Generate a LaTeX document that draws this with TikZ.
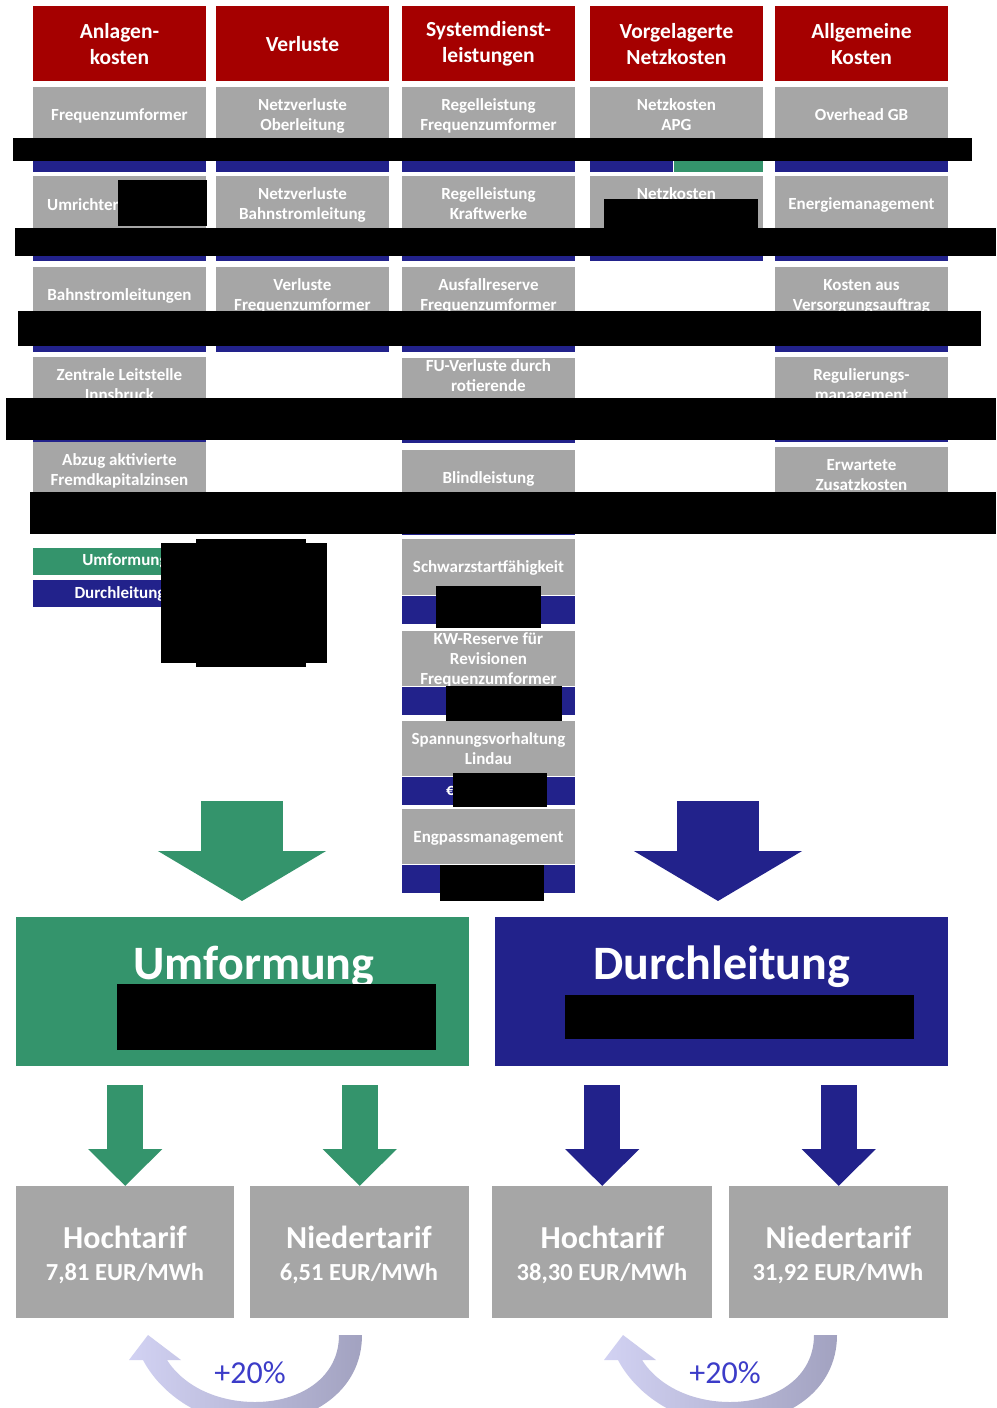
\documentclass[tikz,border=0pt]{standalone}
\usepackage{fontspec}
\setmainfont{Carlito}
\usetikzlibrary{arrows.meta}
\definecolor{hdr}{RGB}{165,0,0}
\definecolor{cellgray}{RGB}{166,166,166}
\definecolor{dblue}{RGB}{34,34,139}
\definecolor{dgreen}{RGB}{52,148,108}
\definecolor{lavl}{RGB}{210,210,243}
\definecolor{lavd}{RGB}{162,162,192}
\definecolor{pctblue}{RGB}{60,60,200}
\newcommand\cellbox[5][56]{%
  \node[graybox, minimum height=#1pt] (#2) at (#3,#4) {};
  \node[celltext, align=center] (#2t) at ([yshift=-1.7pt]#2.center) {\strut #5\strut};
  \node[bluestrip] (#2s) at (#2.south west) {};
}
\begin{document}
\begin{tikzpicture}[x=1pt,y=-1pt,
  hdrbox/.style={fill=hdr, text=white, anchor=north west, minimum width=172.5pt, minimum height=75pt, inner sep=0pt, align=center, font=\fontsize{21.5}{26}\selectfont\bfseries},
  graybox/.style={fill=cellgray, anchor=north west, minimum width=172.5pt, inner sep=0pt},
  celltext/.style={text=white, inner sep=0pt, font=\fontsize{17}{20}\selectfont\bfseries},
  bluestrip/.style={fill=dblue, anchor=north west, minimum width=172.5pt, minimum height=28pt, inner sep=0pt},
  legbox/.style={anchor=north west, minimum width=182pt, minimum height=27pt, inner sep=0pt},
  bigbox/.style={anchor=north west, minimum width=453pt, minimum height=149pt, inner sep=0pt},
  bigtitle/.style={text=white, anchor=base, inner sep=0pt, font=\fontsize{48}{56}\selectfont\bfseries},
  botbox/.style={fill=cellgray, anchor=north west, minimum height=132pt, inner sep=0pt},
  tarif/.style={text=white, anchor=base, inner sep=0pt, font=\fontsize{32}{36}\selectfont\bfseries},
  price/.style={text=white, anchor=base, inner sep=0pt, font=\fontsize{24.5}{30}\selectfont\bfseries},
  pct/.style={text=pctblue, anchor=base, inner sep=0pt, font=\fontsize{32}{36}\selectfont},
  bigarrow/.style={line width=82pt, -{Triangle[width=166pt,length=50pt]}},
  smallarrow/.style={line width=36pt, -{Triangle[width=72pt,length=37pt]}},
  redact/.style={fill=black}
]
\fill[white] (0,0) rectangle (996,1408);
\useasboundingbox (0,0) rectangle (996,1408);

% header row
\node[hdrbox] (h1) at (33,6) {Anlagen-\\kosten};
\node[hdrbox] (h2) at (216,6) {Verluste};
\node[hdrbox] (h3) at (402,6) {Systemdienst-\\leistungen};
\node[hdrbox] (h4) at (590,6) {Vorgelagerte\\Netzkosten};
\node[hdrbox] (h5) at (775,6) {Allgemeine\\Kosten};

% column 1
\cellbox{a1}{33}{87}{Frequenzumformer}
\cellbox{a2}{33}{176}{}
\node[celltext, anchor=base west] (a2u) at (47,210) {Umrichter};
\cellbox{a3}{33}{267}{Bahnstromleitungen}
\cellbox{a4}{33}{357}{Zentrale Leitstelle\\Innsbruck}
\cellbox{a5}{33}{442}{Abzug aktivierte\\Fremdkapitalzinsen}

% column 2
\cellbox{b1}{216}{87}{Netzverluste\\Oberleitung}
\cellbox{b2}{216}{176}{Netzverluste\\Bahnstromleitung}
\cellbox{b3}{216}{267}{Verluste\\Frequenzumformer}

% column 3
\cellbox{c1}{402}{87}{Regelleistung\\Frequenzumformer}
\cellbox{c2}{402}{176}{Regelleistung\\Kraftwerke}
\cellbox{c3}{402}{267}{Ausfallreserve\\Frequenzumformer}
\cellbox{c4}{402}{358}{FU-Verluste durch\\rotierende\\\phantom{X}}
\cellbox{c5}{402}{450}{Blindleistung}
\cellbox{c6}{402}{539}{Schwarzstartfähigkeit}
\cellbox[55]{c7}{402}{631}{KW-Reserve für\\Revisionen\\Frequenzumformer}
\cellbox[55]{c8}{402}{721}{Spannungsvorhaltung\\Lindau}
\node[celltext, anchor=base west] (c8e) at (446,795) {€};
\cellbox[55]{c9}{402}{809}{Engpassmanagement}

% column 4
\node[graybox, minimum height=56pt] (d1) at (590,87) {};
\node[celltext, align=center] (d1t) at ([yshift=-1.7pt]d1.center) {\strut Netzkosten\\APG\strut};
\node[bluestrip, minimum width=83pt] (d1s) at (d1.south west) {};
\node[bluestrip, fill=dgreen, minimum width=89.5pt] (d1g) at (d1s.north east) {};
\cellbox{d2}{590}{176}{Netzkosten\\\phantom{Netzkosten}}

% column 5
\cellbox{e1}{775}{87}{Overhead GB}
\cellbox{e2}{775}{176}{Energiemanagement}
\cellbox{e3}{775}{267}{Kosten aus\\Versorgungsauftrag}
\cellbox{e4}{775}{357}{Regulierungs-\\management}
\cellbox{e5}{775}{447}{Erwartete\\Zusatzkosten}

% legend
\node[legbox, fill=dgreen] (lg) at (33,548) {};
\node[celltext] (lgt) at (125,561.5) {Umformung};
\node[legbox, fill=dblue] (lb) at (33,580) {};
\node[celltext] (lbt) at (120,593.5) {Durchleitung};

% big boxes
\node[bigbox, fill=dgreen] (umf) at (16,917) {};
\node[bigbox, fill=dblue] (dur) at (495,917) {};
\node[bigtitle] (umft) at (254,979) {Umformung};
\node[bigtitle] (durt) at (721.5,979) {Durchleitung};

% big arrows
\coordinate (ga) at (242,801);
\coordinate (ba) at (718,801);
\draw[dgreen, bigarrow] (ga) -- ([yshift=16pt]umf.north -| ga);
\draw[dblue, bigarrow] (ba) -- ([yshift=16pt]dur.north -| ba);

% bottom boxes
\node[botbox, minimum width=218pt] (t1) at (16,1186) {};
\node[botbox, minimum width=219pt] (t2) at (250,1186) {};
\node[botbox, minimum width=220pt] (t3) at (492,1186) {};
\node[botbox, minimum width=219pt] (t4) at (729,1186) {};
\node[tarif] (t1a) at (125,1248) {Hochtarif};
\node[price] (t1b) at (125,1280) {7,81 EUR/MWh};
\node[tarif] (t2a) at (359,1248) {Niedertarif};
\node[price] (t2b) at (359,1280) {6,51 EUR/MWh};
\node[tarif] (t3a) at (602.5,1248) {Hochtarif};
\node[price] (t3b) at (602,1280) {38,30 EUR/MWh};
\node[tarif] (t4a) at (838.5,1248) {Niedertarif};
\node[price] (t4b) at (838,1280) {31,92 EUR/MWh};

% small arrows
\draw[dgreen, smallarrow] ([yshift=-19pt]umf.south -| t1.north) -- (t1.north);
\draw[dgreen, smallarrow] ([yshift=-19pt]umf.south -| t2.north) -- (t2.north);
\draw[dblue, smallarrow] ([yshift=-19pt]dur.south -| t3.north) -- (t3.north);
\draw[dblue, smallarrow] ([yshift=-19pt]dur.south -| t4.north) -- (t4.north);

% curved +20% arrows
\foreach \dx/\nm in {0/pl, 475/pr}{
  \begin{scope}[xshift=\dx pt]
  \shade[left color=lavl, right color=lavd]
    (362,1335) .. controls (362,1392) and (310,1424) .. (253,1424)
    .. controls (205,1424) and (162,1396) .. (143,1360)
    -- (129,1360) -- (148,1335) -- (181,1360) -- (167,1360)
    .. controls (185,1388) and (220,1402) .. (255,1402)
    .. controls (300,1402) and (339,1378) .. (339,1335) -- cycle;
  \node[pct] (\nm) at (250,1383) {+20\%};
  \end{scope}
}

% redaction bars
\fill[redact] (13,138) rectangle (972,161);
\fill[redact] (15,228) rectangle (996,256);
\fill[redact] (18,311) rectangle (981,346);
\fill[redact] (6,398) rectangle (996,440);
\fill[redact] (30,492) rectangle (996,534);
\fill[redact] (118,180) rectangle (207,226);
\fill[redact] (604,199) rectangle (758,233);
\fill[redact] (161,543) rectangle (327,663);
\fill[redact] (196,539) rectangle (306,667);
\fill[redact] (436,586) rectangle (541,628);
\fill[redact] (446,686) rectangle (562,721);
\fill[redact] (453,773) rectangle (547,807);
\fill[redact] (440,865) rectangle (544,901);
\fill[redact] (117,984) rectangle (436,1050);
\fill[redact] (565,995) rectangle (914,1039);
\end{tikzpicture}
\end{document}
